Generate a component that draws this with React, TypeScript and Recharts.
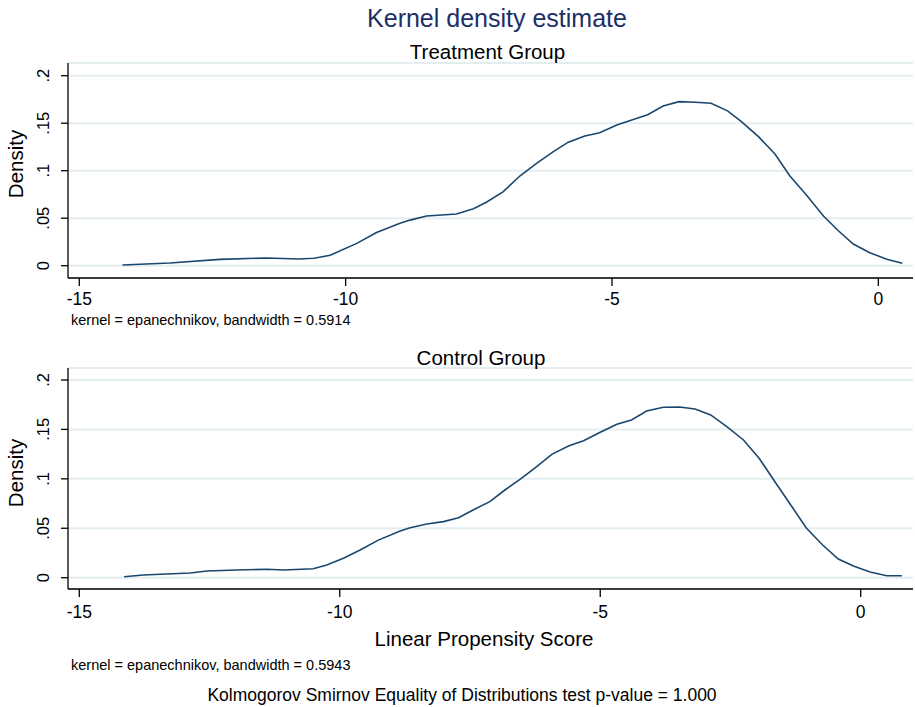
import { LineChart, Line, XAxis, YAxis, CartesianGrid } from 'recharts';

// treatment group density curve
const treatScore = [
  -14.19, -13.3, -12.36, -11.48, -10.89, -10.59, -10.29, -9.79, -9.42, -8.98, -8.79, -8.48,
  -7.92, -7.6, -7.35, -7.04, -6.73, -6.41, -6.1, -5.82, -5.51, -5.23, -4.91, -4.6, -4.33,
  -4.04, -3.74, -3.44, -3.14, -2.83, -2.57, -2.25, -1.94, -1.66, -1.35, -1.03, -0.75, -0.47,
  -0.16, 0.16, 0.45,
];
const treatDensity = [
  0.0007, 0.0028, 0.0067, 0.0081, 0.007, 0.0078, 0.011, 0.0235, 0.035, 0.0446, 0.048, 0.0523,
  0.0544, 0.06, 0.067, 0.078, 0.0944, 0.108, 0.12, 0.13, 0.1365, 0.14, 0.148, 0.154, 0.159,
  0.168, 0.1727, 0.172, 0.171, 0.163, 0.1516, 0.1358, 0.1176, 0.0944, 0.0744, 0.0523, 0.0368,
  0.0228, 0.0137, 0.0067, 0.0025,
];

// control group density curve
const controlScore = [
  -14.14, -13.77, -12.87, -12.55, -11.98, -11.4, -11.08, -10.51, -10.25, -9.93, -9.61, -9.26,
  -8.84, -8.65, -8.33, -8.01, -7.72, -7.44, -7.12, -6.83, -6.54, -6.22, -5.93, -5.61, -5.32,
  -5.0, -4.68, -4.4, -4.11, -3.79, -3.48, -3.18, -2.88, -2.57, -2.25, -1.95, -1.64, -1.32,
  -1.04, -0.73, -0.43, -0.14, 0.18, 0.5, 0.79,
];
const controlDensity = [
  0.001, 0.0027, 0.0048, 0.0068, 0.0078, 0.0085, 0.0078, 0.0091, 0.0128, 0.0196, 0.028, 0.038,
  0.0472, 0.0506, 0.0543, 0.0567, 0.0607, 0.0685, 0.0769, 0.0887, 0.0995, 0.1123, 0.1248,
  0.1332, 0.1386, 0.1471, 0.1552, 0.1595, 0.1686, 0.1724, 0.1727, 0.1707, 0.1646, 0.1528,
  0.1393, 0.1208, 0.0965, 0.0718, 0.05, 0.0331, 0.0189, 0.0118, 0.0058, 0.002, 0.002,
];

const xTicks = [-15, -10, -5, 0];
const yTicks = [0, 0.05, 0.1, 0.15, 0.2];
const yTickLabels = ['0', '.05', '.1', '.15', '.2'];

const treatData = treatScore.map((x, i) => ({ x, y: treatDensity[i] }));
const controlData = controlScore.map((x, i) => ({ x, y: controlDensity[i] }));

const FONT = '"Liberation Sans", Arial, Helvetica, sans-serif';
const LINE_COLOR = '#1a476f';
const TITLE_COLOR = '#1c2f66';
const GRID_COLOR = '#e4edf0';

const YTick = (props: any) => {
  const { x, y, payload } = props;
  const idx = yTicks.indexOf(payload.value);
  const lx = x - 10;
  return (
    <text
      x={lx}
      y={y}
      transform={`rotate(-90, ${lx}, ${y})`}
      textAnchor="middle"
      fontSize={16.5}
      fontFamily={FONT}
      fill="#000"
    >
      {idx >= 0 ? yTickLabels[idx] : payload.value}
    </text>
  );
};

const makeXTick = (dy: number) => (props: any) => {
  const { x, y, payload } = props;
  return (
    <text x={x} y={y + dy} textAnchor="middle" fontSize={17.5} fontFamily={FONT} fill="#000">
      {payload.value}
    </text>
  );
};

const TopXTick = makeXTick(17);
const BottomXTick = makeXTick(19);

interface PanelProps {
  data: { x: number; y: number }[];
  height: number;
  top: number;
  bottom: number;
  xAxisHeight: number;
  xDomain: [number, number];
  yDomain: [number, number];
  tick: (p: any) => any;
}

const Panel = ({ data, height, top, bottom, xAxisHeight, xDomain, yDomain, tick }: PanelProps) => (
  <LineChart width={915} height={height} data={data} margin={{ top, right: 2, left: 0, bottom }}>
    <CartesianGrid horizontal vertical={false} stroke={GRID_COLOR} strokeWidth={2} />
    <XAxis
      dataKey="x"
      type="number"
      domain={xDomain}
      ticks={xTicks}
      allowDataOverflow
      height={xAxisHeight}
      tickSize={8}
      tick={tick}
      axisLine={{ stroke: '#000', strokeWidth: 1.3 }}
      tickLine={{ stroke: '#000', strokeWidth: 1.3 }}
    />
    <YAxis
      type="number"
      domain={yDomain}
      ticks={yTicks}
      allowDataOverflow
      width={68}
      tickSize={7}
      tick={YTick}
      axisLine={{ stroke: '#000', strokeWidth: 1.3 }}
      tickLine={{ stroke: '#000', strokeWidth: 1.3 }}
    />
    <Line
      type="linear"
      dataKey="y"
      stroke={LINE_COLOR}
      strokeWidth={1.6}
      dot={false}
      activeDot={false}
      isAnimationActive={false}
    />
  </LineChart>
);

const App = () => {
  return (
    <div style={{ position: 'absolute', left: 0, top: 0, width: 915, height: 707, background: '#fff' }}>
      <div style={{ position: 'absolute', left: 0, top: 0 }}>
        <Panel
          data={treatData}
          height={330}
          top={63}
          bottom={0}
          xAxisHeight={52}
          xDomain={[-15.212, 0.651]}
          yDomain={[-0.01295, 0.21337]}
          tick={TopXTick}
        />
      </div>
      <div style={{ position: 'absolute', left: 0, top: 330 }}>
        <Panel
          data={controlData}
          height={300}
          top={38}
          bottom={10}
          xAxisHeight={31}
          xDomain={[-15.217, 1.004]}
          yDomain={[-0.01143, 0.2121]}
          tick={BottomXTick}
        />
      </div>
      <svg
        width={915}
        height={707}
        style={{ position: 'absolute', left: 0, top: 0, pointerEvents: 'none' }}
        fontFamily={FONT}
      >
        <text x={497} y={26.5} textAnchor="middle" fontSize={25} fill={TITLE_COLOR}>
          Kernel density estimate
        </text>
        <text x={487.5} y={58.5} textAnchor="middle" fontSize={20.5} fill="#000">
          Treatment Group
        </text>
        <text x={23} y={164} transform="rotate(-90, 23, 164)" textAnchor="middle" fontSize={20.5} fill="#000">
          Density
        </text>
        <text x={71} y={325} fontSize={14.5} fill="#000">
          kernel = epanechnikov, bandwidth = 0.5914
        </text>
        <text x={481} y={365} textAnchor="middle" fontSize={20.5} fill="#000">
          Control Group
        </text>
        <text x={23} y={473} transform="rotate(-90, 23, 473)" textAnchor="middle" fontSize={20.5} fill="#000">
          Density
        </text>
        <text x={484} y={646} textAnchor="middle" fontSize={20.5} fill="#000">
          Linear Propensity Score
        </text>
        <text x={71} y={670} fontSize={14.5} fill="#000">
          kernel = epanechnikov, bandwidth = 0.5943
        </text>
        <text x={462} y={701} textAnchor="middle" fontSize={17.5} fill="#000">
          Kolmogorov Smirnov Equality of Distributions test p-value = 1.000
        </text>
      </svg>
    </div>
  );
};

export default App;
